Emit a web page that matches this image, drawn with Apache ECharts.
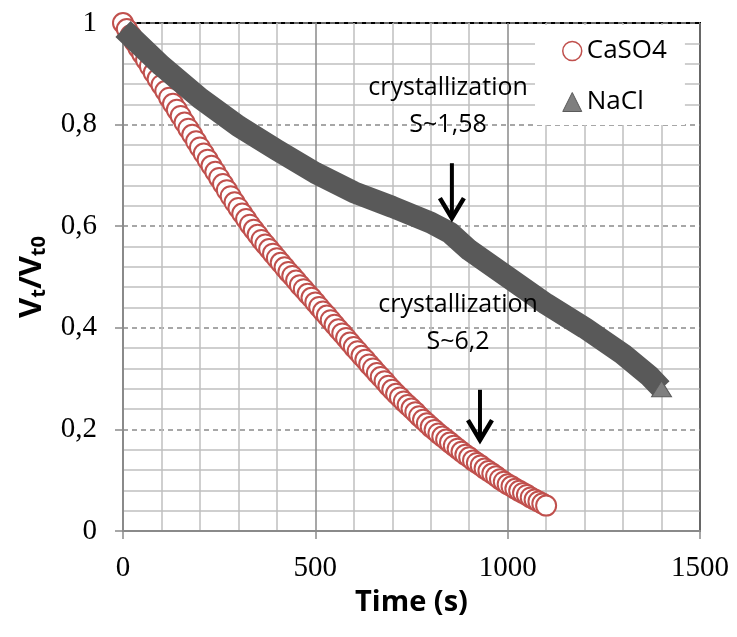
<!DOCTYPE html>
<html>
<head>
<meta charset="utf-8">
<script src="https://cdn.jsdelivr.net/npm/echarts@6/dist/echarts.min.js"></script>
<style>
  html, body { margin: 0; padding: 0; background: #fff; }
  #main { width: 737px; height: 637px; }
</style>
</head>
<body>
<div id="main"></div>
<script>
/* values */
var caTime = [
    0, 10, 20, 30, 40, 50, 60, 70, 80, 90,
    100, 110, 120, 130, 140, 150, 160, 170, 180, 190,
    200, 210, 220, 230, 240, 250, 260, 270, 280, 290,
    300, 310, 320, 330, 340, 350, 360, 370, 380, 390,
    400, 410, 420, 430, 440, 450, 460, 470, 480, 490,
    500, 510, 520, 530, 540, 550, 560, 570, 580, 590,
    600, 610, 620, 630, 640, 650, 660, 670, 680, 690,
    700, 710, 720, 730, 740, 750, 760, 770, 780, 790,
    800, 810, 820, 830, 840, 850, 860, 870, 880, 890,
    900, 910, 920, 930, 940, 950, 960, 970, 980, 990,
    1000, 1010, 1020, 1030, 1040, 1050, 1060, 1070, 1080, 1090,
    1100
];
var caVol = [
    1.000, 0.988, 0.976, 0.963, 0.951, 0.939, 0.927, 0.915, 0.902, 0.890,
    0.878, 0.866, 0.853, 0.841, 0.829, 0.817, 0.804, 0.792, 0.780, 0.767,
    0.755, 0.743, 0.731, 0.719, 0.707, 0.695, 0.683, 0.671, 0.659, 0.647,
    0.636, 0.625, 0.614, 0.603, 0.593, 0.583, 0.573, 0.564, 0.555, 0.546,
    0.537, 0.528, 0.519, 0.510, 0.502, 0.493, 0.484, 0.476, 0.467, 0.459,
    0.450, 0.441, 0.432, 0.424, 0.415, 0.406, 0.397, 0.389, 0.380, 0.371,
    0.362, 0.354, 0.345, 0.337, 0.328, 0.320, 0.311, 0.303, 0.295, 0.286,
    0.278, 0.270, 0.263, 0.255, 0.248, 0.241, 0.234, 0.226, 0.219, 0.212,
    0.205, 0.199, 0.192, 0.186, 0.180, 0.174, 0.168, 0.162, 0.156, 0.150,
    0.145, 0.139, 0.134, 0.129, 0.123, 0.118, 0.113, 0.108, 0.102, 0.097,
    0.092, 0.088, 0.083, 0.079, 0.075, 0.071, 0.066, 0.062, 0.058, 0.054,
    0.050
];
var naTime = [0, 100, 200, 300, 400, 500, 600, 700, 800, 850, 900, 1000, 1100, 1200, 1300, 1370, 1400];
var naVol  = [0.988, 0.916, 0.852, 0.797, 0.750, 0.705, 0.667, 0.638, 0.607, 0.587, 0.553, 0.500, 0.447, 0.400, 0.348, 0.304, 0.280];

var seriesNames = ['CaSO4', 'NaCl'];
var xTicks = [0, 500, 1000, 1500];
var yTicks = [0, 0.2, 0.4, 0.6, 0.8, 1];

/* annotations: [time, value] of text centre and arrow */
var notes = [
    { lines: ['crystallization', 'S~1,58'], at: [845, 0.836], arrowX: 855, arrowFrom: 0.724, arrowTo: 0.616 },
    { lines: ['crystallization', 'S~6,2'],  at: [871, 0.409], arrowX: 928, arrowFrom: 0.278, arrowTo: 0.179 }
];

function pairs(xs, ys) {
    var out = [];
    for (var i = 0; i < xs.length; i++) out.push([xs[i], ys[i]]);
    return out;
}

var chart = echarts.init(document.getElementById('main'), null, { renderer: 'canvas' });

var gridLight = '#c0c0c0';
var gridDark = '#8a8a8a';
var serif = 'Liberation Serif';
var sans = 'Open Sans';

var option = {
    animation: false,
    backgroundColor: '#fff',
    grid: {
        left: 123, right: 37, top: 23, bottom: 106,
        show: true, borderColor: '#000', borderWidth: 2, backgroundColor: 'transparent'
    },
    legend: {
        orient: 'vertical',
        left: 535, top: 25,
        width: 162,
        padding: [13, 18, 10, 27],
        itemGap: 25,
        itemWidth: 19, itemHeight: 19,
        backgroundColor: '#fff',
        textStyle: { fontFamily: sans, fontSize: 26, color: '#000' },
        data: [
            { name: seriesNames[0], icon: 'circle', itemStyle: { color: '#fff', borderColor: '#C0504D', borderWidth: 1.5 } },
            { name: seriesNames[1], icon: 'triangle', itemStyle: { color: '#7f7f7f', borderColor: '#5a5a5a', borderWidth: 1 } }
        ]
    },
    xAxis: {
        type: 'value', min: xTicks[0], max: xTicks[xTicks.length - 1], interval: 500,
        name: 'Time (s)', nameLocation: 'middle', nameGap: 54,
        nameTextStyle: { fontFamily: sans, fontWeight: 'bold', fontSize: 29, color: '#000' },
        axisLine: { show: true, lineStyle: { color: gridDark, width: 2 } },
        axisTick: { show: true, length: 8, lineStyle: { color: gridDark, width: 1.5 } },
        axisLabel: {
            fontFamily: serif, fontSize: 29, color: '#000', margin: 23,
            formatter: function (v) { return String(v); }
        },
        splitLine: { show: true, lineStyle: { color: gridDark, width: 1.5 } },
        minorTick: { show: false, splitNumber: 5 },
        minorSplitLine: { show: true, lineStyle: { color: gridLight, width: 1.5 } }
    },
    yAxis: {
        type: 'value', min: yTicks[0], max: yTicks[yTicks.length - 1], interval: 0.2,
        name: '{b|V}{s|t}{b|/V}{s|t0}', nameLocation: 'middle', nameGap: 74, nameRotate: 90,
        nameTextStyle: {
            color: '#000',
            rich: {
                b: { fontFamily: sans, fontWeight: 'bold', fontSize: 31, color: '#000' },
                s: { fontFamily: sans, fontWeight: 'bold', fontSize: 20, color: '#000', padding: [14, 0, 0, 0] }
            }
        },
        axisLine: { show: true, lineStyle: { color: gridDark, width: 2 } },
        axisTick: { show: true, length: 8, lineStyle: { color: gridDark, width: 1.5 } },
        axisLabel: {
            fontFamily: serif, fontSize: 29, color: '#000', margin: 26,
            formatter: function (v) { return String(v).replace('.', ','); }
        },
        splitLine: { show: true, lineStyle: { color: gridDark, width: 1.5, type: [5, 4] } },
        minorTick: { show: false, splitNumber: 5 },
        minorSplitLine: { show: true, lineStyle: { color: gridLight, width: 1.5 } }
    },
    series: [
        {
            name: seriesNames[0],
            type: 'scatter',
            z: 2,
            symbol: 'circle',
            symbolSize: 20,
            large: false,
            itemStyle: { color: '#fff', borderColor: '#C0504D', borderWidth: 2, opacity: 1 },
            data: pairs(caTime, caVol)
        },
        {
            name: seriesNames[1],
            type: 'line',
            z: 3,
            symbol: 'none',
            itemStyle: { color: '#7f7f7f' },
            lineStyle: { color: '#595959', width: 22, cap: 'butt', join: 'round' },
            data: pairs(naTime, naVol),
            markPoint: {
                symbol: 'triangle', symbolSize: [20, 16], silent: true,
                itemStyle: { color: '#7f7f7f', borderColor: '#5a5a5a', borderWidth: 1 },
                label: { show: false },
                data: [{ coord: [naTime[naTime.length - 1], naVol[naVol.length - 1]] }]
            }
        }
    ]
};

chart.setOption(option);

/* annotation text and arrows, placed in data coordinates */
function drawNotes() {
    var g = [];
    notes.forEach(function (n) {
        var c = chart.convertToPixel({ gridIndex: 0 }, n.at);
        g.push({
            type: 'text', x: c[0], y: c[1], z: 10,
            style: {
                text: n.lines.join('\n'), fontFamily: sans, fontSize: 25, lineHeight: 37,
                fill: '#000', align: 'center', verticalAlign: 'middle'
            }
        });
        var a = chart.convertToPixel({ gridIndex: 0 }, [n.arrowX, n.arrowFrom]);
        var b = chart.convertToPixel({ gridIndex: 0 }, [n.arrowX, n.arrowTo]);
        g.push({
            type: 'line', z: 10,
            shape: { x1: a[0], y1: a[1], x2: b[0], y2: b[1] - 2 },
            style: { stroke: '#000', lineWidth: 4 }
        });
        g.push({
            type: 'polyline', z: 10,
            shape: { points: [[b[0] - 12, b[1] - 20], [b[0], b[1]], [b[0] + 12, b[1] - 20]] },
            style: { stroke: '#000', lineWidth: 4.5, fill: null, lineJoin: 'miter' }
        });
    });
    chart.setOption({ graphic: g });
}
drawNotes();
</script>
</body>
</html>
